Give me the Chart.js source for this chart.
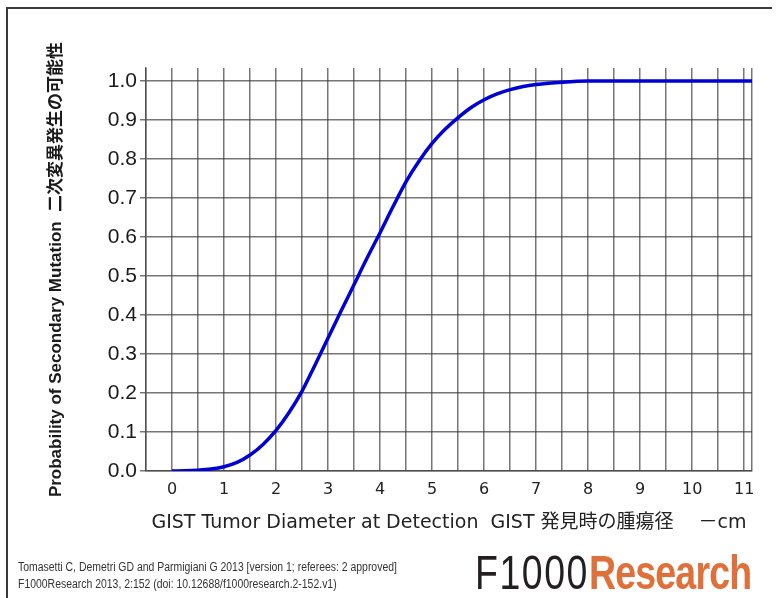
<!DOCTYPE html>
<html>
<head>
<meta charset="utf-8">
<script src="https://cdn.jsdelivr.net/npm/chart.js@4.4.1/dist/chart.umd.min.js"></script>
<style>
  html, body { margin: 0; padding: 0; background: #fff; }
  #wrap { position: relative; width: 776px; height: 598px; overflow: hidden; }
  #frame { position: absolute; left: 6px; top: 7px; width: 764px; height: 600px;
           border-top: 2px solid #3a3a3a; border-left: 2px solid #3a3a3a; }
  #chart { position: absolute; left: 0; top: 0; }
  #cite { position: absolute; left: 18px; top: 559px; font: 12px "Liberation Sans", sans-serif;
          color: #333; line-height: 17px; white-space: nowrap;
          transform: scaleX(0.87); transform-origin: 0 0; }
  #logo { position: absolute; left: 475px; top: 545px; font: 48px "Liberation Sans", sans-serif;
          white-space: nowrap; letter-spacing: -1px; transform: scaleX(0.78); transform-origin: 0 0; }
  #logo .f { color: #231f20; font-weight: 300; letter-spacing: 2px; }
  #logo .r { color: #e0703a; font-weight: bold; }
</style>
</head>
<body>
<div id="wrap">
  <canvas id="chart" width="776" height="598"></canvas>
  <div id="frame"></div>
  <div id="cite">Tomasetti C, Demetri GD and Parmigiani G 2013 [version 1; referees: 2 approved]<br>F1000Research 2013, 2:152 (doi: 10.12688/f1000research.2-152.v1)</div>
  <div id="logo"><span class="f">F1000</span><span class="r">Research</span></div>
</div>
<script>
// tumor diameter (cm) and probability of a secondary mutation
const diameters = [0, 0.25, 0.5, 0.75, 1, 1.25, 1.5, 1.75, 2, 2.25, 2.5, 2.75, 3, 3.25, 3.5, 3.75,
    4, 4.25, 4.5, 4.75, 5, 5.25, 5.5, 5.75, 6, 6.25, 6.5, 6.75, 7, 7.5, 8, 9, 10, 11, 11.2]
const probability = [0, 0.0005, 0.002, 0.005, 0.011, 0.022, 0.041, 0.068, 0.104, 0.150, 0.205, 0.272, 0.341, 0.41, 0.478, 0.546,
    0.611, 0.678, 0.742, 0.795, 0.840, 0.876, 0.906, 0.932, 0.952, 0.967, 0.978, 0.986, 0.991, 0.997, 1, 1, 1, 1, 1]

const xTickLabels = ['0', '1', '2', '3', '4', '5', '6', '7', '8', '9', '10', '11']
const yTickLabels = ['0.0', '0.1', '0.2', '0.3', '0.4', '0.5', '0.6', '0.7', '0.8', '0.9', '1.0']

const xTitle = 'GIST Tumor Diameter at Detection  GIST 発見時の腫瘍径 　－cm'
const yTitle = 'Probability of Secondary Mutation  二次変異発生の可能性'

const gridColor = 'rgba(60, 60, 60, 0.7)'

const config = {
    type: 'line',
    data: {
        datasets: [{
            label: 'P(secondary mutation)',
            data: diameters.map((d, i) => ({ x: d, y: probability[i] })),
            borderColor: '#0000d6',
            borderWidth: 3.5,
            pointRadius: 0,
            cubicInterpolationMode: 'monotone',
            fill: false,
        }]
    },
    options: {
        responsive: false,
        animation: false,
        layout: {
            padding: { left: 40, top: 68, right: 24, bottom: 64 }
        },
        plugins: {
            legend: { display: false },
            tooltip: { enabled: false },
        },
        scales: {
            x: {
                type: 'linear',
                min: -0.5,
                max: 11.15,
                afterBuildTicks: (scale) => {
                    const ticks = []
                    for (let v = -0.5; v <= 11; v += 0.5) ticks.push({ value: v })
                    ticks.push({ value: 11.15 })
                    scale.ticks = ticks
                },
                afterFit: (scale) => { scale.height = 63 },
                grid: { color: gridColor, lineWidth: 1.5, drawTicks: false },
                border: { color: gridColor, width: 1.5 },
                ticks: {
                    autoSkip: false,
                    maxRotation: 0,
                    padding: 9,
                    color: '#222',
                    font: { family: 'DejaVu Sans', size: 16 },
                    callback: (value) => Number.isInteger(value) ? xTickLabels[value] : ''
                },
                title: {
                    display: true,
                    text: xTitle,
                    color: '#222',
                    font: { family: 'DejaVu Sans, Noto Sans CJK JP', size: 19 },
                    padding: { top: 0, bottom: 0 }
                }
            },
            y: {
                min: 0,
                max: 1.0333,
                afterBuildTicks: (scale) => {
                    scale.ticks = yTickLabels.map((t, i) => ({ value: i / 10 }))
                },
                afterFit: (scale) => { scale.width = 106 },
                grid: { color: gridColor, lineWidth: 1.5, tickLength: 6 },
                border: { color: gridColor, width: 1.5 },
                ticks: {
                    padding: 3,
                    color: '#1a1a1a',
                    font: { family: 'Liberation Sans', size: 21 },
                    callback: (value) => yTickLabels[Math.round(value * 10)]
                },
                title: {
                    display: true,
                    text: yTitle,
                    color: '#1a1a1a',
                    font: { family: 'Liberation Sans, Noto Sans CJK JP', size: 17, weight: 'bold' },
                    padding: { top: 6, bottom: 0 }
                }
            }
        }
    }
}

new Chart(document.getElementById('chart'), config)
</script>
</body>
</html>
